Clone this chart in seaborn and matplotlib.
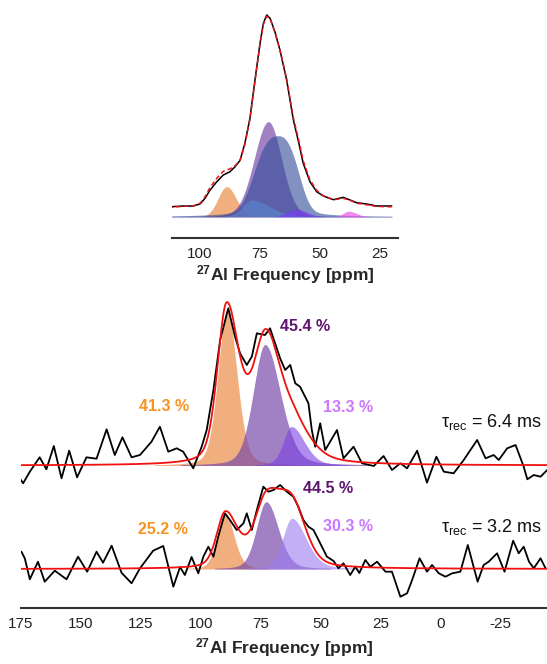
import numpy as np
import pandas as pd
import matplotlib
matplotlib.use('Agg')
import matplotlib.pyplot as plt
import seaborn as sns

# ---- top panel: experimental spectrum and fit (ppm, intensity)
top_ppm = [111.8, 107.0, 102.8, 100.0, 97.9, 95.8, 93.0, 90.3, 87.5, 85.4, 83.3, 81.3,
           79.2, 77.1, 75.0, 73.6, 72.2, 70.8, 68.8, 66.7, 65.3, 63.9, 62.5, 61.1, 59.0,
           57.0, 54.2, 51.4, 48.6, 44.4, 40.3, 37.5, 34.7, 30.5, 26.4, 20.1]
top_exp = [31.6, 32.3, 32.3, 34.3, 40.0, 48.3, 56.6, 63.3, 66.6, 71.6, 78.0, 95.0,
           120.0, 158.3, 195.0, 215.0, 223.3, 220.0, 206.6, 188.3, 173.3, 158.3, 138.3, 118.3, 97.0,
           75.0, 56.6, 46.6, 42.3, 38.6, 41.0, 38.3, 35.6, 34.3, 32.3, 32.3]
top_fit = [31.0, 32.0, 32.5, 35.0, 41.5, 51.0, 60.0, 67.0, 69.5, 72.5, 78.0, 94.0,
           119.0, 157.0, 194.0, 214.0, 222.0, 219.5, 206.0, 188.5, 174.0, 159.5, 140.0, 120.5, 99.5,
           77.5, 58.5, 48.0, 42.5, 38.5, 40.0, 38.0, 35.0, 33.5, 31.8, 31.5]
top_comp_base = 21.6

# top components: orange, purple, slate, light blue, violet, magenta
top_center = [88.9, 71.5, 67.5, 78.5, 59.7, 38.2]
top_height = [30.0, 95.0, 81.0, 16.7, 7.4, 5.5]
top_hw_hi = [4.2, 7.0, 10.5, 4.5, 4.5, 2.5]
top_hw_lo = [4.7, 6.5, 9.0, 9.0, 5.0, 4.0]
top_shape = [2.0, 2.0, 3.0, 2.0, 2.0, 2.0]
top_lor = [0.0, 0.1, 0.2, 0.2, 0.0, 0.0]

# ---- bottom panel: two recovery delays
ms64_ppm = [175.1, 174.0, 171.2, 167.1, 164.3, 161.2, 158.0, 154.8, 151.5, 147.6, 143.4,
            139.2, 135.8, 132.6, 128.8, 125.3, 120.5, 117.0, 113.5, 110.0, 107.3, 105.2,
            103.1, 99.6, 97.5, 94.7, 91.9, 88.5, 85.7, 83.6, 80.8, 78.7, 76.6, 73.2, 71.1,
            69.0, 66.9, 64.8, 62.7, 60.6, 58.6, 55.1, 53.7, 52.3, 50.2, 48.1, 43.2, 40.5,
            36.3, 32.8, 27.9, 23.8, 20.3, 16.8, 14.0, 9.8, 5.7, 1.8, -1.3, -5.4, -9.6,
            -15.2, -18.7, -22.1, -24.2, -27.7, -31.2, -34.6, -36.1, -38.8, -41.6, -44.4]
ms64_exp = [-13.8, -17.8, -6.2, 8.2, -3.8, 19.5, -12.8, 14.8, -11.8, 8.2, 6.8,
            36.2, 10.5, 28.2, 8.2, 10.5, 23.8, 38.8, 13.8, 17.2, 13.8, 5.5,
            -2.8, 18.8, 35.5, 75.5, 125.5, 157.2, 128.8, 112.2, 100.5, 108.8, 132.2, 130.5, 137.2,
            122.2, 107.2, 95.5, 100.5, 82.2, 78.8, 62.2, 35.5, 18.8, 42.2, 15.5, 35.5, 7.2,
            18.8, 2.2, -0.5, 9.5, -4.5, 2.2, -2.8, 14.8, -17.2, 8.8, -6.2, -7.8, 5.5,
            25.5, 7.2, 10.5, 5.5, 17.2, 20.5, -1.2, -13.8, -9.5, -11.2, -4.5]

ms32_ppm = [174.7, 173.3, 171.2, 167.8, 165.0, 160.8, 155.9, 151.1, 147.3, 143.4, 140.7,
            137.1, 133.0, 128.8, 125.3, 119.8, 115.6, 111.4, 108.6, 106.6, 103.8, 101.0,
            98.9, 96.8, 94.7, 92.7, 89.9, 87.8, 85.0, 82.2, 80.8, 78.7, 76.6, 73.9, 71.8,
            69.7, 66.9, 64.1, 61.4, 59.3, 57.2, 55.1, 53.0, 50.2, 47.4, 44.6, 42.6, 40.5,
            37.7, 35.6, 33.9, 31.4, 29.3, 26.5, 23.0, 20.3, 18.2, 16.8, 14.0, 11.9, 8.8,
            5.7, 3.6, 0.8, -2.0, -4.8, -8.2, -11.3, -13.7, -15.4, -17.9, -20.0, -23.5,
            -26.6, -30.2, -32.5, -34.6, -36.8, -38.8, -41.6, -43.7]
ms32_exp = [17.3, 10.7, -10.3, 7.3, -12.7, -1.7, -10.3, 12.3, -2.7, 17.3, 6.3,
            23.3, -3.7, -14.3, 0.7, 18.3, 23.0, -17.7, 2.0, -6.0, 12.0, -4.3,
            12.3, 22.3, 12.3, 32.3, 55.7, 49.0, 39.0, 45.7, 55.7, 39.0, 59.0, 82.3, 77.3,
            79.0, 84.0, 77.3, 72.3, 62.3, 49.0, 42.3, 39.0, 25.7, 12.3, 8.0, 0.7, 5.7,
            -6.0, 2.3, -4.0, 9.0, 2.3, 7.3, -2.7, -2.7, -17.7, -27.7, -24.3, -11.0, 10.7,
            -2.7, 4.0, -4.3, -7.7, -4.3, -2.7, 24.0, 2.3, -12.7, 4.0, 7.3, 15.7,
            -2.7, 28.3, 15.7, 22.3, 7.3, 0.7, 10.7, 0.7]

ms64_base = 142.8
ms32_base = 39.3

# shaded sites (Al(IV), Al(V), Al(VI)): center, height, hwhm high/low ppm side, lorentz part
ms64_center = [89.0, 73.2, 62.2]
ms64_height = [156.0, 121.0, 39.0]
ms64_hw_hi = [4.4, 5.8, 4.0]
ms64_hw_lo = [4.8, 7.6, 6.5]
ms64_lor = [0.25, 0.25, 0.3]
ms32_center = [89.9, 72.7, 62.0]
ms32_height = [56.3, 67.3, 50.7]
ms32_hw_hi = [3.8, 4.8, 4.5]
ms32_hw_lo = [4.4, 6.0, 7.0]
ms32_lor = [0.25, 0.25, 0.3]

# red fit envelopes, same parameter layout
fit64_center = [89.2, 72.8, 60.0]
fit64_height = [155.0, 128.0, 25.0]
fit64_hw_hi = [4.5, 6.5, 6.0]
fit64_hw_lo = [6.0, 8.0, 8.0]
fit64_lor = [0.3, 0.4, 0.4]
fit32_center = [89.7, 72.5, 61.5]
fit32_height = [54.0, 68.0, 52.0]
fit32_hw_hi = [4.2, 6.0, 6.5]
fit32_hw_lo = [6.0, 8.0, 6.5]
fit32_lor = [0.3, 0.4, 0.3]

ms64_labels = ['41.3 %', '45.4 %', '13.3 %']
ms32_labels = ['25.2 %', '44.5 %', '30.3 %']
delay_labels = [r'τ$_{\mathrm{rec}}$ = 6.4 ms', r'τ$_{\mathrm{rec}}$ = 3.2 ms']
top_ticks = [100, 75, 50, 25]
bottom_ticks = [175, 150, 125, 100, 75, 50, 25, 0, -25]


def peak(x, c, h, w_hi, w_lo, p=2.0, eta=0.0):
    """split pseudo-Voigt line, separate half widths on each side"""
    d = x - c
    w = np.where(d > 0, w_hi, w_lo)
    r = np.abs(d) / w
    return h * ((1 - eta) * np.exp(-np.log(2) * r ** p) + eta / (1 + r ** 2))


sns.set_style("white")
plt.rcParams['font.family'] = ['Liberation Sans', 'DejaVu Sans']
plt.rcParams['mathtext.fontset'] = 'custom'
plt.rcParams['mathtext.rm'] = 'Liberation Sans'
plt.rcParams['mathtext.it'] = 'Liberation Sans:italic'
plt.rcParams['mathtext.bf'] = 'Liberation Sans:bold'
plt.rcParams['axes.unicode_minus'] = False

fig = plt.figure(figsize=(5.47, 6.64), dpi=100)
ax1 = fig.add_axes([171.7 / 547, 1 - 238.3 / 664, 226.3 / 547, 228.3 / 664])
ax2 = fig.add_axes([20.7 / 547, 1 - 608.3 / 664, 526.3 / 547, 318.3 / 664])

# ---- top panel
grid_top = np.linspace(111.8, 20.1, 800)
top_colors = ['#EE9A5E', '#7A4CAA', '#2F4A96', '#5A8AD8', '#7A3CF0', '#EE55EE']
top_alpha = [0.8, 0.7, 0.6, 0.55, 0.7, 0.7]
ax1.plot(grid_top, np.full_like(grid_top, top_comp_base), color='#d3d7ea', lw=0.8, zorder=1)
for i in range(len(top_center)):
    y = peak(grid_top, top_center[i], top_height[i], top_hw_hi[i], top_hw_lo[i],
             top_shape[i], top_lor[i])
    ax1.fill_between(grid_top, top_comp_base, top_comp_base + y,
                     color=top_colors[i], alpha=top_alpha[i], lw=0, zorder=2 + i)

df_top = pd.DataFrame({'ppm': top_ppm, 'exp': top_exp, 'fit': top_fit})
sns.lineplot(data=df_top, x='ppm', y='exp', ax=ax1, color='black', lw=1.1,
             estimator=None, zorder=10)
sns.lineplot(data=df_top, x='ppm', y='fit', ax=ax1, color='#e8161b', lw=1.1,
             linestyle=(0, (3, 2)), estimator=None, zorder=11)

ax1.set_xlim(111.8, 17.5)
ax1.set_ylim(0, 228.3)
ax1.set_xticks(top_ticks)
ax1.set_yticks([])
ax1.set_ylabel('')
ax1.set_xlabel(r'$^{\mathbf{27}}$Al Frequency [ppm]', fontsize=12.5, fontweight='bold',
               labelpad=2)

# ---- bottom panel
grid = np.linspace(175, -44.3, 2000)
site_colors = [['#EE9A5E', '#7A4CAA', '#7B3FE4'], ['#EE9A5E', '#7A4CAA', '#9B7BF0']]
site_alpha = [0.8, 0.7, 0.6]
label_colors = ['#F7931E', '#5E1470', '#CC77FF']

sets = [(ms64_base, ms64_center, ms64_height, ms64_hw_hi, ms64_hw_lo, ms64_lor,
         fit64_center, fit64_height, fit64_hw_hi, fit64_hw_lo, fit64_lor, ms64_ppm, ms64_exp),
        (ms32_base, ms32_center, ms32_height, ms32_hw_hi, ms32_hw_lo, ms32_lor,
         fit32_center, fit32_height, fit32_hw_hi, fit32_hw_lo, fit32_lor, ms32_ppm, ms32_exp)]
for k, (base, cen, hgt, whi, wlo, lor, fc, fh, fwhi, fwlo, flor, xp, yp) in enumerate(sets):
    total = np.zeros_like(grid)
    for i in range(3):
        y = peak(grid, cen[i], hgt[i], whi[i], wlo[i], 2.0, lor[i])
        mask = y > 0.8
        ax2.fill_between(grid, base, base + y, where=mask, color=site_colors[k][i],
                         alpha=site_alpha[i], lw=0, zorder=2 + i)
        total += peak(grid, fc[i], fh[i], fwhi[i], fwlo[i], 2.0, flor[i])
    sns.lineplot(x=np.array(xp), y=np.array(yp) + base, ax=ax2, color='black', lw=1.3,
                 estimator=None, zorder=10)
    sns.lineplot(x=grid, y=total + base, ax=ax2, color='#f01010', lw=1.3,
                 estimator=None, zorder=11)

# percentages and delays
pct_pos = [[(125.6, 197.6), (67.0, 277.6), (48.9, 196.0)],
           [(126.0, 74.3), (57.2, 115.0), (48.9, 77.6)]]
for k, labels in enumerate([ms64_labels, ms32_labels]):
    for i, lab in enumerate(labels):
        ax2.text(pct_pos[k][i][0], pct_pos[k][i][1], lab, color=label_colors[i],
                 fontsize=11.5, fontweight='bold', ha='left', va='baseline', zorder=20)
ax2.text(-42.1, 181.6, delay_labels[0], fontsize=13, ha='right', va='baseline', color='#111111')
ax2.text(-42.1, 76.6, delay_labels[1], fontsize=13, ha='right', va='baseline', color='#111111')

ax2.set_xlim(175, -44.3)
ax2.set_ylim(0, 318.3)
ax2.set_xticks(bottom_ticks)
ax2.set_yticks([])
ax2.set_ylabel('')
ax2.set_xlabel(r'$^{\mathbf{27}}$Al Frequency [ppm]', fontsize=12.5, fontweight='bold',
               labelpad=4)

for ax in [ax1, ax2]:
    for s in ['top', 'left', 'right']:
        ax.spines[s].set_visible(False)
    ax.spines['bottom'].set_color('#333333')
    ax.spines['bottom'].set_linewidth(1.5)
    ax.tick_params(axis='x', direction='in', length=6, width=1.3, color='#333333',
                   labelsize=11, pad=6, labelcolor='#222222')
    ax.patch.set_alpha(0)

fig.savefig('out.png', dpi=100)
